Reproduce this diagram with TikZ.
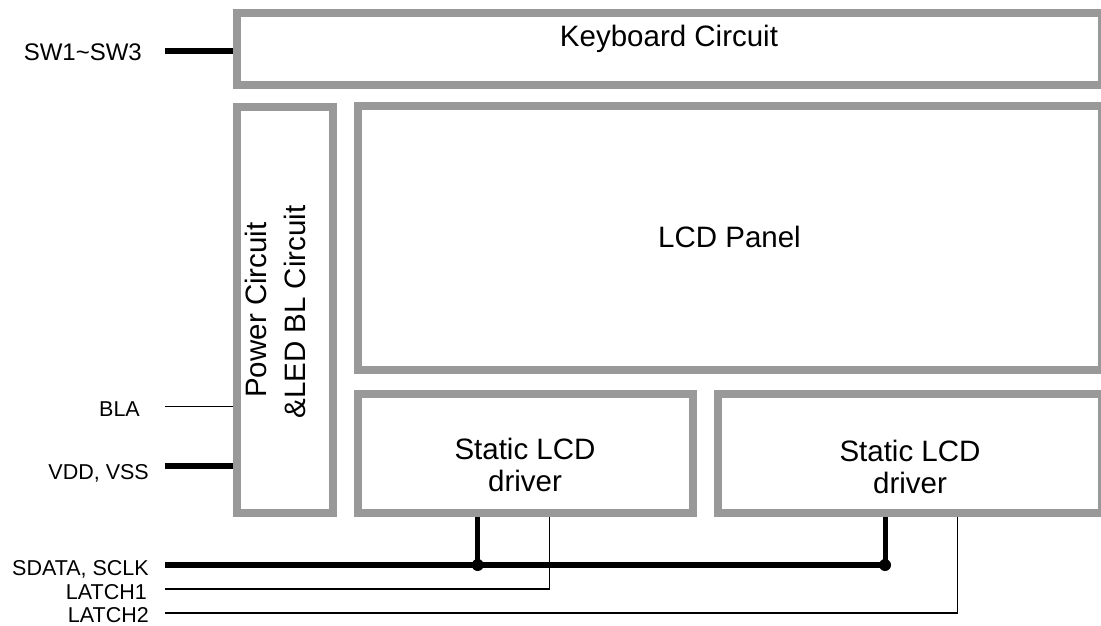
\documentclass[tikz,border=0pt]{standalone}
\usepackage{fontspec}
\setmainfont{Liberation Sans}
\definecolor{boxgray}{RGB}{153,153,153}
\begin{document}
\begin{tikzpicture}[x=1pt,y=-1pt,
  box/.style={draw=boxgray, line width=8pt, inner sep=0pt, outer sep=4pt},
  big/.style={font=\fontsize{29.5}{34}\selectfont, inner sep=0pt, anchor=base},
  small/.style={font=\fontsize{21.5}{25}\selectfont, inner sep=0pt, anchor=base east},
  bus/.style={line width=6pt},
  wire/.style={line width=1.3pt},
  jdot/.style={circle, fill=black, inner sep=0pt, minimum size=12pt}]
\useasboundingbox (0,0) rectangle (1101,626);

% boxes
\node[box, minimum width=864.5pt, minimum height=72.5pt] (kb) at (669.25,49.25) {};
\node[box, minimum width=96pt, minimum height=406pt] (pwr) at (285,310) {};
\node[box, minimum width=744pt, minimum height=264pt] (lcd) at (729.5,238) {};
\node[box, minimum width=335.5pt, minimum height=119pt] (drv1) at (525.25,453.5) {};
\node[box, minimum width=383.5pt, minimum height=119pt] (drv2) at (909.75,453.5) {};

% box texts
\node[big] (kbT) at (669,46.7) {Keyboard Circuit};
\node[big] (lcdT) at (729.5,247.3) {LCD Panel};
\node[big] (d1a) at (525,459) {Static LCD};
\node[big] (d1b) at (525,491.7) {driver};
\node[big] (d2a) at (910,461) {Static LCD};
\node[big] (d2b) at (910,493) {driver};
\node[big, rotate=90] (pwrA) at (266.7,310) {Power Circuit};
\node[big, rotate=90] (pwrB) at (305,312) {\&LED BL Circuit};

% signal labels
\node[small, font=\fontsize{24}{28}\selectfont] (swT) at (142,61) {SW1\textasciitilde SW3};
\node[small] (blaT) at (140,416.7) {BLA};
\node[small] (vddT) at (149,479) {VDD, VSS};
\node[small] (sdT) at (149,575) {SDATA, SCLK};
\node[small] (l1T) at (147,599) {LATCH1};
\node[small] (l2T) at (149,622.7) {LATCH2};

% free ends and junctions
\coordinate (swL) at (165,51);
\coordinate (blaL) at (165,406.7);
\coordinate (vddL) at (165,466);
\coordinate (sdL) at (165,565);
\coordinate (l1L) at (165,589);
\coordinate (l2L) at (165,613);
\coordinate (j1) at (477.7,565);
\coordinate (j2) at (885,565);
\coordinate (l1x) at (549.3,589);
\coordinate (l2x) at (957.7,613);

% connectors
\draw[bus] (swL) -- (swL -| kb.west);
\draw[wire] (blaL) -- (blaL -| pwr.west);
\draw[bus] (vddL) -- (vddL -| pwr.west);
\draw[bus] (sdL) -- (j2);
\draw[bus, line width=5pt] (drv1.south -| j1) -- (j1);
\draw[bus, line width=5pt] (drv2.south -| j2) -- (j2);
\draw[wire] (l1L) -- (l1x) -- (drv1.south -| l1x);
\draw[wire] (l2L) -- (l2x) -- (drv2.south -| l2x);
\node[jdot] (dj1) at (j1) {};
\node[jdot] (dj2) at (j2) {};
\end{tikzpicture}
\end{document}
